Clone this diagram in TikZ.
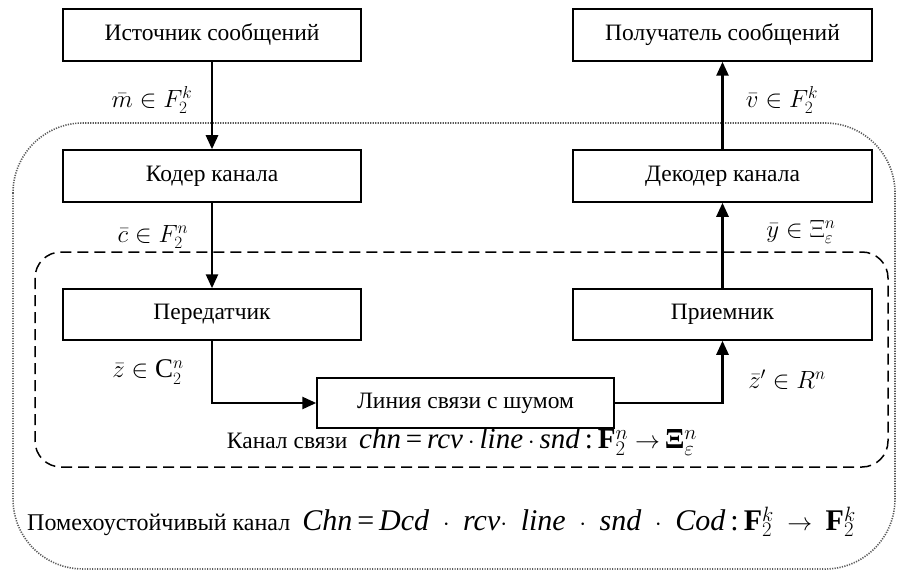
\documentclass[tikz,border=0pt]{standalone}
\usepackage{fontspec}
\setmainfont{Liberation Serif}
\usetikzlibrary{arrows.meta}
\newcommand{\gp}{\hspace{0.45em}}
\begin{document}
\begin{tikzpicture}[x=1pt,y=-1pt,
  blk/.style={draw, line width=1.5pt, minimum height=52pt, inner sep=0pt, font=\fontsize{23.5}{27}\selectfont},
  conn/.style={line width=2.6pt, -{Triangle[length=14pt,width=12pt]}},
  lbl/.style={inner sep=0pt, font=\fontsize{27}{31}\selectfont},
  frm/.style={inner sep=0pt, font=\fontsize{23.5}{27}\selectfont}]
\useasboundingbox (0,0) rectangle (897,575);
% outer dotted and inner dashed frames
\draw[gray!70!black, line width=1.6pt, dash pattern=on 1.2pt off 1.3pt, rounded corners=70pt] (13,123) rectangle (895,569);
\draw[line width=1.5pt, dash pattern=on 11pt off 6pt, rounded corners=26pt] (35,252) rectangle (888,467);
% boxes
\node[blk, minimum width=298pt] (src) at (212,35) {Источник сообщений};
\node[blk, minimum width=299pt] (dst) at (722.5,35) {Получатель сообщений};
\node[blk, minimum width=298pt] (cod) at (212,176) {Кодер канала};
\node[blk, minimum width=299pt] (dec) at (722.5,176) {Декодер канала};
\node[blk, minimum width=298pt, minimum height=51pt] (tx) at (212,314.5) {Передатчик};
\node[blk, minimum width=299pt, minimum height=51pt] (rx) at (722.5,314.5) {Приемник};
\node[blk, minimum width=297pt, minimum height=50pt] (ln) at (465.5,403) {Линия связи с шумом};
% connectors
\draw[conn] (src) -- (cod);
\draw[conn] (cod) -- (tx);
\draw[conn] (tx.south) |- (ln.west);
\draw[conn] (ln.east) -| (rx.south);
\draw[conn] (rx) -- (dec);
\draw[conn] (dec) -- (dst);
% labels
\node[lbl] (lm) at (152,100) {$\bar{m}\in F_2^k$};
\node[lbl] (lv) at (782,100) {$\bar{v}\in F_2^k$};
\node[lbl] (lc) at (153,237) {$\bar{c}\in F_2^n$};
\node[lbl] (ly) at (801,232) {$\bar{y}\in \Xi_\varepsilon^n$};
\node[lbl] (lz) at (148,372) {$\bar{z}\in \mathrm{C}_2^n$};
\node[lbl] (lz2) at (787,380) {$\bar{z}'\in R^n$};
\node[frm] (chn) at (462,442) {Канал связи\enspace{\fontsize{29}{33}\selectfont\textit{chn}\,=\,\textit{rcv}\,$\cdot$\,\textit{line}\,$\cdot$\,\textit{snd}\,:\,\textbf{F}$_2^n\to$\,\textbf{Ξ}$_{\varepsilon}^n$}};
\node[frm, font=\fontsize{24}{28}\selectfont] (Chn) at (441.5,522) {Помехоустойчивый канал\enspace{\fontsize{30}{34}\selectfont\textit{Chn}\,=\,\textit{Dcd}\gp$\cdot$\gp\textit{rcv}$\cdot$\gp\textit{line}\gp$\cdot$\gp\textit{snd}\gp$\cdot$\gp\textit{Cod}\,:\,\textbf{F}$_2^k$\gp$\to$\gp\textbf{F}$_2^k$}};
\end{tikzpicture}
\end{document}
